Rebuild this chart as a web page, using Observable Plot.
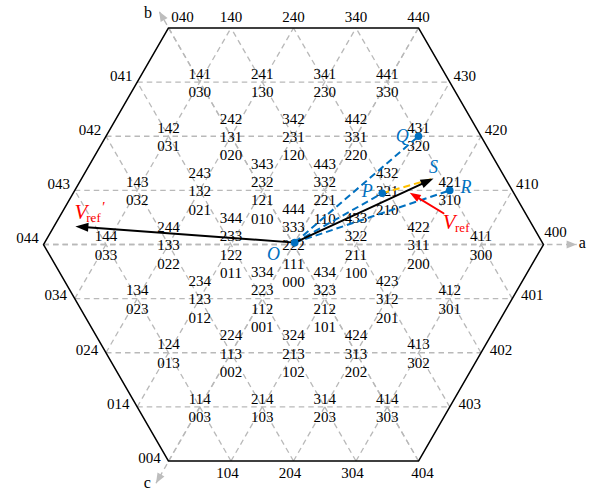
<!DOCTYPE html>
<html><head><meta charset="utf-8">
<script src="https://cdn.jsdelivr.net/npm/d3@7"></script>
<script src="https://cdn.jsdelivr.net/npm/@observablehq/plot@0.6"></script>
<style>
html,body{margin:0;padding:0;background:#fff}
#chart{width:602px;height:491px}
</style>
</head><body><div id="chart"></div>
<script>
// ---------- data: switching states (a b c levels) ----------
const hexVertices = ["400","440","040","044","004","404","400"];

// grid lines as pairs of boundary states (three families)
const gridHorizontal = [["041","430"],["042","420"],["043","410"],["044","400"],["034","401"],["024","402"],["014","403"]];
const gridRising     = [["104","430"],["204","420"],["304","410"],["004","440"],["014","340"],["024","240"],["034","140"]];
const gridFalling    = [["403","140"],["402","240"],["401","340"],["404","040"],["304","041"],["204","042"],["104","043"]];

// axes: [from state, tip (data units), label position]
const axisNames = ["a","b","c"];
const axisFrom  = ["044","404","440"];
const axisTip   = [[4.53,0],[-2.15,3.73],[-2.2,-3.82]];
const axisLabelPos = [[4.62,0.03],[-2.33,3.71],[-2.34,-3.81]];

// redundant states of interior points (top line = highest)
const interiorPoints = [
  "141/030","241/130","341/230","441/330",
  "142/031","242/131/020","342/231/120","442/331/220","431/320",
  "143/032","243/132/021","343/232/121/010","443/332/221/110","432/321/210","421/310",
  "144/033","244/133/022","344/233/122/011","444/333/222/111/000","433/322/211/100","422/311/200","411/300",
  "134/023","234/123/012","334/223/112/001","434/323/212/101","423/312/201","412/301",
  "124/013","224/113/002","324/213/102","424/313/202","413/302",
  "114/003","214/103","314/203","414/303"
];
// boundary states grouped by side
const edgeTop = ["140","240","340","440"];
const edgeTopCorner = ["040"];
const edgeUpperLeft = ["041","042","043","044"];
const edgeUpperRight = ["430","420","410"];
const edgeRightCorner = ["400"];
const edgeLowerRight = ["401","402","403"];
const edgeBottomCorner = ["404"];
const edgeBottom = ["104","204","304"];
const edgeLowerLeft = ["034","024","014","004"];

// vectors (data units, one level = 1)
const pointO = [0.02, 0.03];
const pointP = [1.42, 0.82];
const pointQ = [2.0, 1.732];
const pointR = [2.5, 0.866];
const pointS = [2.24, 1.056];
const vrefPrimeTip = [-3.49, 0.29];
const redFrom = [2.4, 0.5];
const redTip  = [1.86, 0.83];

const pointNames = ["O","P","Q","R","S"];
const pointNamePos = [[-0.32,-0.16],[1.18,0.86],[1.74,1.74],[2.76,0.91],[2.24,1.24]];

// ---------- helpers ----------
const S3 = Math.sqrt(3)/2;
const pos = s => { const [a,b,c] = s.split("").map(Number); return [a-(b+c)/2, S3*(b-c)]; };
const ang = (p, q) => -Math.atan2(q[1]-p[1], q[0]-p[0]) * 180/Math.PI;
const head = (L, Wd) => ({draw(ctx){ ctx.moveTo(0,0); ctx.lineTo(-L,-Wd/2); ctx.lineTo(-L,Wd/2); ctx.closePath(); }});

const W = 602, H = 491, unit = 62.5, ox = 293, oy = 244;
const serif = "'Liberation Serif','Times New Roman',serif";
const blue = "#0070c0", gray = "#b9b9b9";

const gridSegs = [...gridHorizontal, ...gridRising, ...gridFalling].map(([u,v]) => ({p:pos(u), q:pos(v)}));
const axes = axisNames.map((n,i) => ({name:n, p:pos(axisFrom[i]), q:axisTip[i], l:axisLabelPos[i]}));

const edgeText = (arr, dx, dy) => Plot.text(arr, {x: d=>pos(d)[0], y: d=>pos(d)[1], text: d=>d, dx, dy, fontSize:15, fontFamily:serif, fill:"black"});

const blueLines = [pointQ, pointP, pointR].map(q => ({p:pointO, q}));
const blackArrows = [{p:pointO, q:pointS}, {p:pointO, q:vrefPrimeTip}];

const chart = Plot.plot({
  width: W, height: H,
  marginTop:0, marginRight:0, marginBottom:0, marginLeft:0,
  x: {domain:[-ox/unit, (W-ox)/unit], axis:null},
  y: {domain:[-(H-oy)/unit, oy/unit], axis:null},
  style: {fontFamily: serif, background:"#fff"},
  marks: [
    Plot.link(gridSegs, {x1:d=>d.p[0], y1:d=>d.p[1], x2:d=>d.q[0], y2:d=>d.q[1], stroke:gray, strokeWidth:1.3, strokeDasharray:"5.5,4"}),
    Plot.link(axes, {x1:d=>d.p[0], y1:d=>d.p[1], x2:d=>d.q[0], y2:d=>d.q[1], stroke:gray, strokeWidth:1.3, strokeDasharray:"5.5,4"}),
    Plot.dot(axes, {x:d=>d.q[0], y:d=>d.q[1], rotate:d=>ang([0,0], d.q), symbol:head(10,8), fill:"#bdbdbd", stroke:null}),
    Plot.text(axes, {x:d=>d.l[0], y:d=>d.l[1], text:d=>d.name, fontSize:16, fontFamily:serif, fill:"black"}),
    Plot.line(hexVertices, {x:d=>pos(d)[0], y:d=>pos(d)[1], stroke:"black", strokeWidth:1.5}),
    Plot.text(interiorPoints, {x:d=>pos(d.split("/").at(-1))[0], y:d=>pos(d.split("/").at(-1))[1], text:d=>d.split("/").join("\n"), fontSize:15, lineHeight:1.22, fontFamily:serif, fill:"black"}),
    edgeText(edgeTop, 0, -11),
    edgeText(edgeTopCorner, 14, -11),
    edgeText(edgeUpperLeft, -16, -6),
    edgeText(edgeUpperRight, 15, -6),
    edgeText(edgeRightCorner, 12, -12),
    edgeText(edgeLowerRight, 20, -3),
    edgeText(edgeBottomCorner, 4, 12),
    edgeText(edgeBottom, -3.5, 12.5),
    edgeText(edgeLowerLeft, -19, -3),
    // blue dashed lines
    Plot.link(blueLines, {x1:d=>d.p[0], y1:d=>d.p[1], x2:d=>d.q[0], y2:d=>d.q[1], stroke:blue, strokeWidth:2, strokeDasharray:"7,4"}),
    // yellow dashed P -> S
    Plot.link([{p:pointP, q:pointS}], {x1:d=>d.p[0], y1:d=>d.p[1], x2:d=>d.q[0], y2:d=>d.q[1], stroke:"#ffc000", strokeWidth:2, strokeDasharray:"7,4"}),
    // black arrows
    Plot.arrow(blackArrows, {x1:d=>d.p[0], y1:d=>d.p[1], x2:d=>d.q[0], y2:d=>d.q[1], stroke:"black", strokeWidth:2, headLength:0, insetEnd:8}),
    Plot.dot(blackArrows, {x:d=>d.q[0], y:d=>d.q[1], rotate:d=>ang(d.p,d.q), symbol:head(13,9), fill:"black", stroke:null}),
    // red arrow
    Plot.arrow([{p:redFrom, q:redTip}], {x1:d=>d.p[0], y1:d=>d.p[1], x2:d=>d.q[0], y2:d=>d.q[1], stroke:"#ff0000", strokeWidth:2, headLength:0, insetEnd:8}),
    Plot.dot([{p:redFrom, q:redTip}], {x:d=>d.q[0], y:d=>d.q[1], rotate:d=>ang(d.p,d.q), symbol:head(11,8), fill:"#ff0000", stroke:null}),
    // blue dots
    Plot.dot([pointO, pointP, pointQ, pointR], {x:d=>d[0], y:d=>d[1], r:3.8, fill:blue, stroke:null}),
    // point names
    Plot.text(pointNames, {x:(d,i)=>pointNamePos[i][0], y:(d,i)=>pointNamePos[i][1], text:d=>d, fontSize:18, fontStyle:"italic", fontFamily:serif, fill:blue}),
    // V_ref labels
    Plot.text(["V"], {x:[2.49], y:[0.35], text:d=>d, fontSize:21, fontStyle:"italic", fontFamily:serif, fill:"#ff0000"}),
    Plot.text(["ref"], {x:[2.7], y:[0.26], text:d=>d, fontSize:13, fontFamily:serif, fill:"#ff0000"}),
    Plot.text(["V"], {x:[-3.4], y:[0.51], text:d=>d, fontSize:21, fontStyle:"italic", fontFamily:serif, fill:"#ff0000"}),
    Plot.text(["ref"], {x:[-3.2], y:[0.43], text:d=>d, fontSize:13, fontFamily:serif, fill:"#ff0000"}),
    Plot.text(["\u2032"], {x:[-3.05], y:[0.6], text:d=>d, fontSize:15, fontStyle:"italic", fontFamily:serif, fill:"#ff0000"})
  ]
});
document.getElementById("chart").appendChild(chart);
</script>
</body></html>
